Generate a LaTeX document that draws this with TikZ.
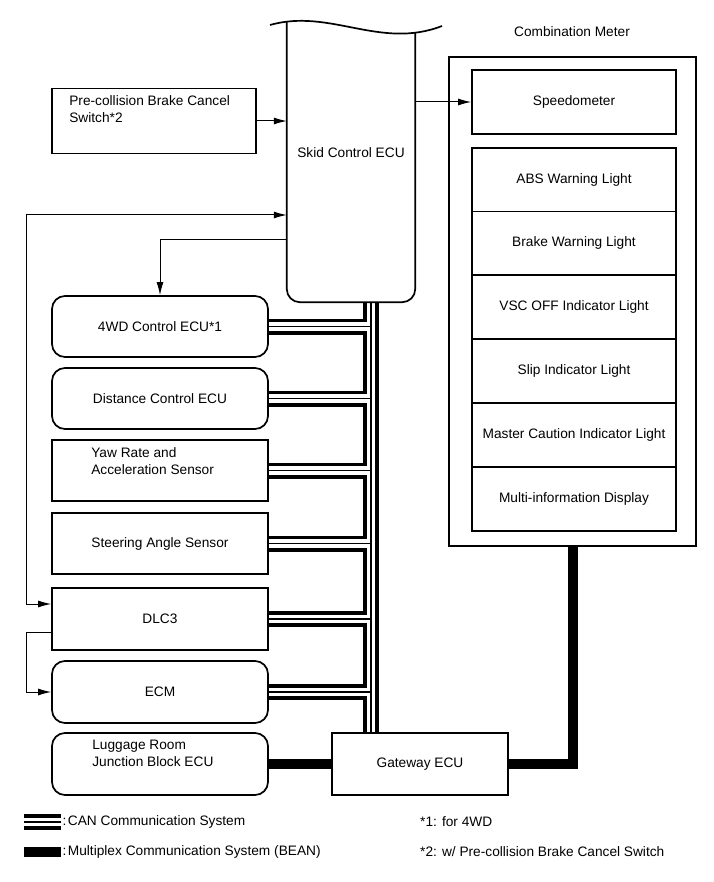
\documentclass[tikz,border=0pt]{standalone}
\usepackage{fontspec}
\setmainfont{Liberation Sans}
\usepackage{tikz}
\usetikzlibrary{positioning, arrows.meta, calc, backgrounds}

\newcommand{\diafont}{\fontsize{13.7}{17}\selectfont}

\tikzset{
	edge/.style={line width=1.7pt},
	box/.style={draw, line width=1.7pt, minimum width=216pt, minimum height=61pt, inner sep=0pt, font=\diafont},
	rbox/.style={box, rounded corners=13pt},
	cell/.style={box, minimum width=204pt, minimum height=63.83pt},
	lbl/.style={font=\diafont, inner sep=0pt},
	sig/.style={line width=1pt, -{Latex[length=13pt,width=7pt]}},
	can out/.style={line width=16pt, black},
	can gap/.style={line width=8.8pt, white},
	can mid/.style={line width=1.8pt, black},
	bean/.style={line width=10pt, black},
}

\begin{document}
\begin{tikzpicture}[x=1pt, y=-1pt]
	\useasboundingbox (0,0) rectangle (713,882);

	% Skid Control ECU (cut off at the top)
	\node[inner sep=0pt, minimum width=128pt, minimum height=280.5pt] (ecu) at (351,161.75) {};
	\node[lbl] (ecutxt) at (351,153) {Skid Control ECU};

	% Left column
	\node[box, minimum width=204pt, minimum height=65pt] (pcs) at (154,121) {};
	\node[lbl, anchor=north west, align=left] (pcstxt) at ($(pcs.north west)+(18,8)$) {Pre-collision Brake Cancel\\Switch*2};
	\node[rbox] (fwd) at (160,326.5) {4WD Control ECU*1};
	\node[rbox] (dist) at (160,398.5) {Distance Control ECU};
	\node[box] (yaw) at (160,470.5) {};
	\node[lbl, anchor=north west, align=left] (yawtxt) at ($(yaw.north west)+(40,8)$) {Yaw Rate and\\Acceleration Sensor};
	\node[box] (steer) at (160,543.5) {Steering Angle Sensor};
	\node[box, minimum height=62pt] (dlc) at (160,619) {DLC3};
	\node[rbox, minimum height=62pt] (ecm) at (160,692) {ECM};
	\node[rbox, minimum height=62pt] (lugg) at (160,764) {};
	\node[lbl, anchor=north west, align=left] (luggtxt) at ($(lugg.north west)+(41,8)$) {Luggage Room\\Junction Block ECU};
	\node[box, minimum width=176pt, minimum height=62pt] (gw) at (420,764) {Gateway ECU};

	% Combination Meter
	\node[box, minimum width=247pt, minimum height=489pt] (meter) at (572.5,301.5) {};
	\node[lbl] (metertxt) at (572,32) {Combination Meter};
	\node[cell, minimum height=64pt] (speedo) at (574,102) {Speedometer};
	\foreach \lampname [count=\i from 0] in {ABS Warning Light, Brake Warning Light, VSC OFF Indicator Light, Slip Indicator Light, Master Caution Indicator Light, Multi-information Display}
		\node[cell] (lamp\i) at (574,179.6+63.83*\i) {\lampname};

	% CAN bus
	\coordinate (bustop) at ([xshift=20pt]ecu.south);
	\coordinate (busbot) at (bustop |- gw.north);
	\begin{scope}[on background layer]
		\foreach \layer in {can out, can gap, can mid} {
			\draw[\layer] (bustop) -- (busbot);
			\foreach \unit in {fwd, dist, yaw, steer, dlc, ecm}
				\draw[\layer] (\unit.east) -- (\unit.east -| bustop);
		}
	\end{scope}

	% BEAN
	\draw[bean] (lugg.east) -- (gw.west);
	\draw[bean] (gw.east) -| (meter.south);

	% Signal lines
	\draw[sig] (pcs.east) -- (pcs.east -| ecu.west);
	\draw[sig] (ecu.east |- speedo.west) -- (speedo.west);
	\draw[sig] ([yshift=-78.25pt]ecu.west) -| (fwd.north);
	\draw[sig, {Latex[length=13pt,width=7pt]}-{Latex[length=13pt,width=7pt]}] ([yshift=-53.25pt]ecu.west) -- ++(-260,0) |- ([yshift=15pt]dlc.west);
	\draw[sig] ([yshift=-13pt]dlc.west) -- ++(-25,0) |- (ecm.west);

	% ECU outline with wavy cut
	\draw[edge, rounded corners=13pt] (ecu.north west) -- (ecu.south west) -- (ecu.south east) -- ([yshift=-11.5pt]ecu.north east);
	\draw[edge] (270,25) .. controls (330,8) and (380,50) .. (442,26);

	% Legend
	\coordinate (lcan1) at (24,822);
	\coordinate (lcan2) at (61,822);
	\foreach \layer in {can out, can gap, can mid}
		\draw[\layer] (lcan1) -- (lcan2);
	\node[lbl, anchor=west] (lcantxt) at (62.4,822) {:\kern1.5pt CAN Communication System};
	\coordinate (lbean1) at (24,852);
	\coordinate (lbean2) at (61,852);
	\draw[bean] (lbean1) -- (lbean2);
	\node[lbl, anchor=west] (lbeantxt) at (62.4,852) {:\kern1.5pt Multiplex Communication System (BEAN)};
	\node[lbl, anchor=west] (note1) at (420,822) {*1: for 4WD};
	\node[lbl, anchor=west] (note2) at (420,852) {*2: w/ Pre-collision Brake Cancel Switch};
\end{tikzpicture}
\end{document}
